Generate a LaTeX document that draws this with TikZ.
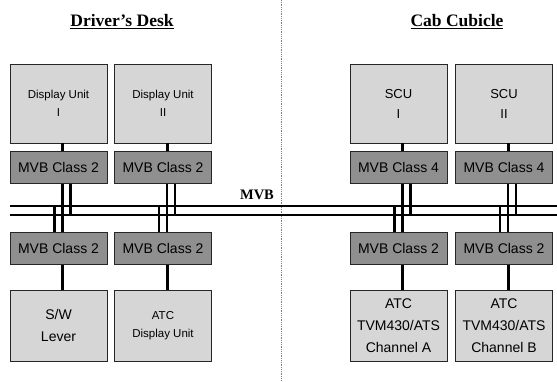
\documentclass[tikz,border=0pt]{standalone}
\usepackage{fontspec}
\setmainfont{Liberation Serif}
\setsansfont{Liberation Sans}
\usetikzlibrary{calc}

\definecolor{unitgray}{gray}{0.84}
\definecolor{mvbgray}{gray}{0.56}

\tikzset{
    unit/.style={draw=black!85, fill=unitgray, minimum width=97pt,
        align=center, inner sep=1pt, font=\sffamily\fontsize{14}{22}\selectfont},
    smallunit/.style={unit, font=\sffamily\fontsize{11.5}{18}\selectfont},
    mvbbox/.style={draw=black!85, fill=mvbgray, minimum width=97pt,
        minimum height=32pt, inner sep=1pt, font=\sffamily\fontsize{14}{16}\selectfont},
    heading/.style={font=\bfseries\fontsize{17.5}{20}\selectfont},
    link/.style={line width=3pt},
    bus/.style={line width=2pt},
    tap/.style={line width=2.2pt},
}

\begin{document}
\begin{tikzpicture}[x=1pt, y=-1pt]
    \useasboundingbox (0,0) rectangle (557,381);
    % border between the two halves
    \draw[gray, densely dotted, line width=0.8pt] (281,0) -- (281,381);
    \node[heading] (desk) at (122,22) {\underline{Driver's Desk}};
    \node[heading] (cubicle) at (457,22) {\underline{Cab Cubicle}};

    % top row
    \node[smallunit, minimum height=79pt] (du1) at (58.5,103.5) {Display Unit\\I};
    \node[smallunit, minimum height=79pt] (du2) at (163,103.5) {Display Unit\\II};
    \node[unit, minimum height=79pt, font=\sffamily\fontsize{13}{20}\selectfont]
        (scu1) at (398.5,103.5) {SCU\\I};
    \node[unit, minimum height=79pt, font=\sffamily\fontsize{13}{20}\selectfont]
        (scu2) at (504,103.5) {SCU\\II};
    \node[mvbbox] (mvb1) at (58.5,167.5) {MVB Class 2};
    \node[mvbbox] (mvb2) at (163,167.5) {MVB Class 2};
    \node[mvbbox] (mvb3) at (398.5,167.5) {MVB Class 4};
    \node[mvbbox] (mvb4) at (504,167.5) {MVB Class 4};

    % bottom row
    \node[mvbbox] (mvb5) at (58.5,248.5) {MVB Class 2};
    \node[mvbbox] (mvb6) at (163,248.5) {MVB Class 2};
    \node[mvbbox] (mvb7) at (398.5,248.5) {MVB Class 2};
    \node[mvbbox] (mvb8) at (504,248.5) {MVB Class 2};
    \node[unit, minimum height=71pt] (lever) at (58.5,325.5) {S/W\\Lever};
    \node[smallunit, minimum height=71pt] (atcdu) at (163,325.5) {ATC\\Display Unit};
    \node[unit, minimum height=71pt] (atca) at (398.5,325.5) {ATC\\TVM430/ATS\\Channel A};
    \node[unit, minimum height=71pt] (atcb) at (504,325.5) {ATC\\TVM430/ATS\\Channel B};

    % the bus
    \coordinate (busA) at (10,206);
    \coordinate (busB) at (10,215);
    \draw[bus] (busA) -- (557,206);
    \draw[bus] (busB) -- (557,215);
    \node[font=\bfseries\fontsize{14.5}{16}\selectfont] (mvblabel) at (257,195) {MVB};

    \foreach \top/\up/\low/\bot in {du1/mvb1/mvb5/lever, du2/mvb2/mvb6/atcdu,
            scu1/mvb3/mvb7/atca, scu2/mvb4/mvb8/atcb} {
        \draw[link] ($(\top.south)+(4,0)$) -- ($(\up.north)+(4,0)$);
        \draw[link] ($(\low.south)+(4,0)$) -- ($(\bot.north)+(4,0)$);
        % double taps crossing the two bus lines
        \draw[tap] ($(\up.south)+(4,0)$) -- ($(\up.south |- busB)+(4,0)$);
        \draw[tap] ($(\up.south)+(12,0)$) -- ($(\up.south |- busB)+(12,0)$);
        \draw[tap] ($(\low.north)+(4,0)$) -- ($(\low.north |- busA)+(4,0)$);
        \draw[tap] ($(\low.north)+(-4,0)$) -- ($(\low.north |- busA)+(-4,0)$);
    }
\end{tikzpicture}
\end{document}
